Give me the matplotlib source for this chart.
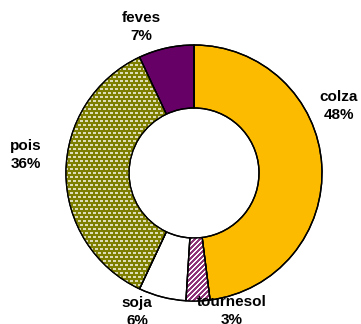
import numpy as np
import matplotlib
matplotlib.use("Agg")
import matplotlib.pyplot as plt

# Crop shares, clockwise from 12 o'clock
crops = ["colza", "tournesol", "soja", "pois", "feves"]
shares = [48, 3, 6, 36, 7]
colors = ["#FDBB00", "#8E3478", "#FFFFFF", "#7E7E00", "#660066"]

# Label anchors (pixel coordinates, origin top-left)
label_xy = {
    "colza": (339, 106),
    "tournesol": (232, 311),
    "soja": (137, 312),
    "pois": (26, 155),
    "feves": (141, 27),
}

W, H = 361, 324
fig = plt.figure(figsize=(W / 100, H / 100), dpi=100)
ax = fig.add_axes([0, 0, 1, 1])

cx, cy, R, ring = 194, H - 173, 128, 63
wedges, _ = ax.pie(
    shares, colors=colors, startangle=90, counterclock=False,
    center=(cx, cy), radius=R,
    wedgeprops=dict(width=ring, edgecolor="black", linewidth=1.0),
)
ax.set_xlim(0, W)
ax.set_ylim(0, H)
ax.set_aspect("equal")
ax.axis("off")

rows, cols = np.mgrid[0:H, 0:W]

# Dotted texture for "pois": light dashes in a staggered grid on olive
olive = np.array(matplotlib.colors.to_rgb("#7E7E00"))
cream = np.array(matplotlib.colors.to_rgb("#DCDCB8"))
r8 = rows % 8
c5 = cols % 5
dash = ((r8 < 2) & (c5 < 3)) | ((r8 >= 4) & (r8 < 6) & (((cols + 2) % 5) < 3))
tex = np.where(dash[..., None], cream, olive)
im = ax.imshow(tex, extent=(0, W, 0, H), interpolation="bilinear", zorder=1.5)
im.set_clip_path(wedges[crops.index("pois")])

# Diagonal stripes for "tournesol"
plum = np.array(matplotlib.colors.to_rgb("#8E3478"))
white = np.array([1.0, 1.0, 1.0])
stripe = ((cols + rows) % 5) < 2
tex2 = np.where(stripe[..., None], white, plum)
im2 = ax.imshow(tex2, extent=(0, W, 0, H), interpolation="nearest", zorder=1.5)
im2.set_clip_path(wedges[crops.index("tournesol")])

# Redraw outlines on top of the textures
for w in wedges:
    outline = matplotlib.patches.Wedge(
        w.center, w.r, w.theta1, w.theta2, width=w.width,
        facecolor="none", edgecolor="black", linewidth=1.0, zorder=2,
    )
    ax.add_patch(outline)

for name, val in zip(crops, shares):
    x, y = label_xy[name]
    ax.text(x, H - y, f"{name}\n{val}%", ha="center", va="center",
            fontsize=11, fontweight="bold", family="Liberation Sans",
            linespacing=1.3, zorder=3)

fig.savefig("out.png", dpi=100)
